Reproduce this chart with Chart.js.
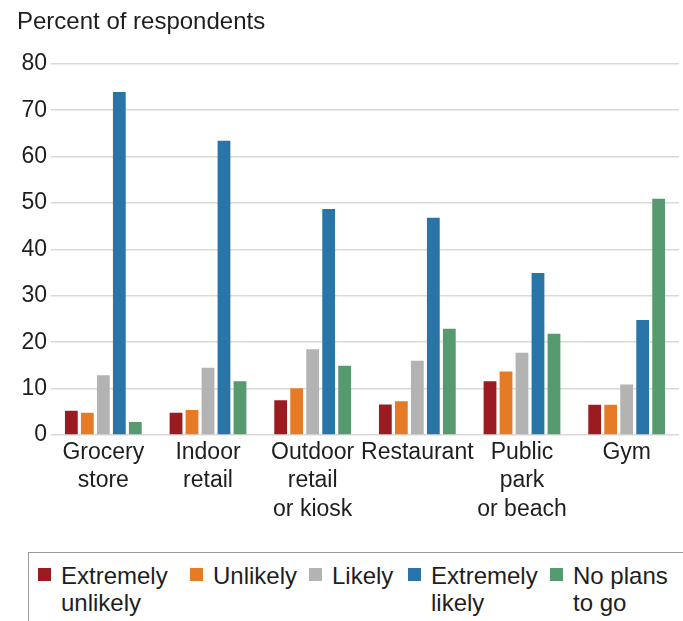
<!DOCTYPE html>
<html>
<head>
<meta charset="utf-8">
<script src="https://cdn.jsdelivr.net/npm/chart.js@4"></script>
<style>
  body { margin: 0; background: #fff; font-family: "Liberation Sans", Arial, sans-serif; }
  #wrap { position: relative; width: 683px; height: 621px; overflow: hidden; }
  #chartBox { position: absolute; left: 0; top: 0; width: 683px; height: 530px; }
  #legend {
    position: absolute; left: 28px; top: 552px; width: 700px; height: 100px;
    border: 1.5px solid #9a9a9a; box-sizing: border-box;
    display: flex; padding: 9px 0 0 9px; color: #1e1e1e; font-size: 24px; line-height: 27px;
  }
  .item { display: flex; align-items: flex-start; flex: none; }
  .sw { width: 13px; height: 13px; margin: 6px 10px 0 0; flex: none; }
</style>
</head>
<body>
<div id="wrap">
  <div id="chartBox"><canvas id="myChart"></canvas></div>
  <div id="legend"></div>
</div>
<script>
const categories = [
  ['Grocery', 'store'],
  ['Indoor', 'retail'],
  ['Outdoor', 'retail', 'or kiosk'],
  ['Restaurant'],
  ['Public', 'park', 'or beach'],
  ['Gym']
];

// legend labels, split where the picture breaks the line
const seriesNames = [
  ['Extremely', 'unlikely'],
  ['Unlikely'],
  ['Likely'],
  ['Extremely', 'likely'],
  ['No plans', 'to go']
];

const extremelyUnlikely = [5.2, 4.8, 7.5, 6.6, 11.6, 6.5];
const unlikely = [4.8, 5.4, 10.1, 7.3, 13.7, 6.5];
const likely = [12.9, 14.5, 18.5, 16.0, 17.7, 10.9];
const extremelyLikely = [73.9, 63.4, 48.7, 46.8, 34.9, 24.8];
const noPlans = [2.8, 11.6, 14.9, 22.9, 21.8, 50.9];

const colors = ['#9a1c20', '#e67b27', '#b3b3b3', '#2975a8', '#579a6f'];
const seriesValues = [extremelyUnlikely, unlikely, likely, extremelyLikely, noPlans];
// width of each legend entry
const legendWidths = [152, 119, 99, 142, 130];

const datasets = seriesValues.map((vals, i) => {
  return {
    label: seriesNames[i].join(' '),
    data: vals,
    backgroundColor: colors[i],
    borderWidth: 0,
    categoryPercentage: 0.764,
    barPercentage: 0.8
  }
});

const fam = '"Liberation Sans", Arial, sans-serif';

const config = {
  type: 'bar',
  data: { labels: categories, datasets: datasets },
  options: {
    responsive: true,
    maintainAspectRatio: false,
    animation: false,
    layout: { padding: { left: 17, right: 4, top: 0, bottom: 0 } },
    plugins: {
      legend: { display: false },
      tooltip: { enabled: false },
      title: {
        display: true,
        text: 'Percent of respondents',
        align: 'start',
        color: '#1e1e1e',
        font: { family: fam, size: 24, weight: 'normal', lineHeight: 1.2 },
        padding: { top: 8, bottom: 27 }
      }
    },
    scales: {
      x: {
        grid: { display: false, drawTicks: false },
        border: { display: false },
        ticks: { color: '#1e1e1e', font: { family: fam, size: 23, lineHeight: 1.24 }, padding: 3, maxRotation: 0, autoSkip: false },
        afterFit: (scale) => { scale.height = 95; }
      },
      y: {
        min: 0,
        max: 80,
        grid: { color: '#d9d9d9', lineWidth: 1.5, drawTicks: false },
        border: { display: false },
        ticks: { stepSize: 10, color: '#1e1e1e', font: { family: fam, size: 23 }, padding: 4 },
        afterFit: (scale) => { scale.width = 34; }
      }
    }
  }
};

var ctx = document.getElementById('myChart').getContext('2d');
var myChart = new Chart(ctx, config);

// html legend built from the datasets
const legend = document.getElementById('legend');
datasets.forEach((ds, i) => {
  const item = document.createElement('div');
  item.className = 'item';
  item.style.width = legendWidths[i] + 'px';
  const sw = document.createElement('div');
  sw.className = 'sw';
  sw.style.background = ds.backgroundColor;
  const txt = document.createElement('div');
  txt.innerHTML = seriesNames[i].join('<br>');
  item.appendChild(sw);
  item.appendChild(txt);
  legend.appendChild(item);
});
</script>
</body>
</html>
